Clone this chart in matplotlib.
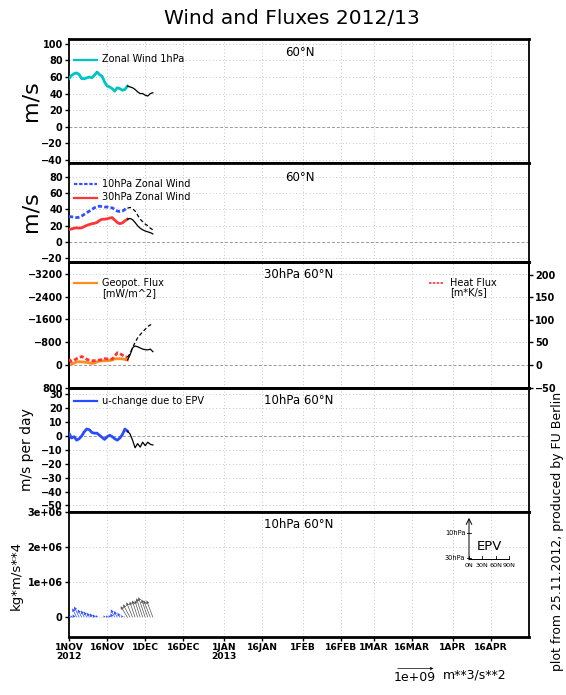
import numpy as np
import matplotlib
matplotlib.use('Agg')
import matplotlib.pyplot as plt
import matplotlib.dates as mdates
from matplotlib.lines import Line2D

W, H = 566, 695
def fx(x): return x / W
def fy(y): return 1 - y / H

# ---------------- data ----------------
start = np.datetime64('2012-11-01')
obs_days = np.arange(0, 24)      # analysis (coloured)
fc_days = np.arange(23, 34)      # forecast (black)

u1_obs = [58, 62, 64, 65, 63, 58, 58, 59, 60, 59, 62, 66, 63, 61, 54, 49, 48, 46, 43, 47, 46, 44, 45, 49]
u1_fc = [49, 48, 47, 45, 42, 40, 40, 38, 37, 40, 41]

u10_obs = [31, 31, 30.5, 30, 30.5, 32, 34, 36, 38, 40, 42, 43.5, 44, 43.5, 43, 43, 42, 42, 40, 38, 37.5, 38, 40, 41.5]
u10_fc = [41.5, 42.5, 41, 38, 33, 28, 25, 22, 20, 17, 15]
u30_obs = [15.5, 16, 17, 17.5, 17, 17.5, 19, 20.5, 21.5, 22.5, 23, 24, 26.5, 28, 28, 28.5, 29.5, 30, 27, 24, 22.5, 23.5, 26, 28]
u30_fc = [28, 29, 27.5, 24, 20, 17, 15, 13.5, 12.5, 11.5, 10]

geo_obs = [-80, -40, -60, -110, -115, -110, -100, -95, -70, -60, -65, -110, -140, -145, -150, -150, -160, -180, -215, -220, -220, -215, -195, -175]
geo_fc = [-175, -350, -600, -670, -640, -600, -560, -540, -530, -560, -470]
heat_obs = [12.5, 7.5, 10, 14, 17, 18.5, 16, 12.5, 10.5, 9.5, 9.5, 10, 11, 12, 14, 13.5, 12.5, 13, 19, 27, 25, 22, 18, 17]
heat_fc = [17, 25, 38, 50, 60, 67, 74, 79, 85, 89, 86]

du_obs = [2, -1.5, -0.5, -3, -2, 0, 3, 5, 4.5, 2.5, 2, 2, 0.5, -1, -2.5, -0.5, 0.5, -0.5, -2, -3, -1.5, 1, 5, 3.5]
du_fc = [3.5, 1.5, -3, -8.5, -5.5, -8, -4.5, -7, -4.5, -6, -6.5]

# EP flux vectors (units of 1e+09 m**3/s**2)
epy_obs = [-0.03, -0.03, -0.04, -0.12, -0.14, -0.11, -0.09, -0.08, -0.06, -0.05, -0.04, -0.03,
           0.0, -0.01, -0.03, -0.03, -0.03, -0.05, -0.11, -0.09, -0.06, -0.03, -0.015, -0.01]
epz_obs = [0.064, 0.056, 0.083, 0.25, 0.30, 0.22, 0.19, 0.16, 0.13, 0.11, 0.083, 0.064,
           0.01, 0.02, 0.056, 0.056, 0.064, 0.11, 0.22, 0.175, 0.13, 0.064, 0.03, 0.015]
epy_fc = [-0.19, -0.19, -0.17, -0.15, -0.15, -0.15, -0.175, -0.19, -0.175, -0.185, -0.175]
epz_fc = [0.31, 0.36, 0.42, 0.44, 0.47, 0.47, 0.53, 0.56, 0.50, 0.47, 0.47]

tick_dates = ['2012-11-01', '2012-11-16', '2012-12-01', '2012-12-16', '2013-01-01', '2013-01-16',
              '2013-02-01', '2013-02-16', '2013-03-01', '2013-03-16', '2013-04-01', '2013-04-16']
tick_labels = ['1NOV\n2012', '16NOV', '1DEC', '16DEC', '1JAN\n2013', '16JAN',
               '1FEB', '16FEB', '1MAR', '16MAR', '1APR', '16APR']

# ---------------- figure ----------------
plt.rcParams['font.family'] = ['DejaVu Sans']
fig = plt.figure(figsize=(W / 100, H / 100), dpi=100)

xo = mdates.date2num(start + obs_days)
xf = mdates.date2num(start + fc_days)
xt = mdates.date2num(np.array(tick_dates, dtype='datetime64[D]'))
xlim = (mdates.date2num(np.datetime64('2012-11-01')), mdates.date2num(np.datetime64('2013-05-01')))

panels_px = [(39, 163), (163, 262), (262, 388), (388, 512), (512, 637)]
axes = []
for (t, b) in panels_px:
    ax = fig.add_axes([fx(69), fy(b), fx(529) - fx(69), (b - t) / H])
    axes.append(ax)

grid_kw = dict(color='#b4b4b4', lw=0.6, ls=(0, (1, 3)))
zero_kw = dict(color='#999999', lw=0.7, ls=(0, (3, 2)), zorder=1)

for i, ax in enumerate(axes):
    ax.set_xlim(*xlim)
    ax.set_xticks(xt)
    for xv in xt[1:]:
        ax.axvline(xv, **grid_kw, zorder=0)
    for s in ax.spines.values():
        s.set_linewidth(1.3)
    ax.spines['top'].set_linewidth(2.0)
    ax.spines['bottom'].set_linewidth(2.0)
    ax.tick_params(axis='y', direction='out', length=3, width=1, pad=1.5, labelsize=7)
    if i < 4:
        ax.tick_params(axis='x', length=0, labelbottom=False)
    else:
        ax.set_xticklabels(tick_labels, fontsize=6.6, fontweight='bold', linespacing=0.95)
        ax.tick_params(axis='x', direction='out', length=3, width=1, pad=1.5)
    for lab in ax.get_yticklabels():
        lab.set_fontweight('bold')

def hgrid(ax, vals):
    for v in vals:
        if v == 0:
            ax.axhline(0, **zero_kw)
        else:
            ax.axhline(v, **grid_kw, zorder=0)

# Panel 1
ax = axes[0]
ax.set_ylim(-44, 106)
ax.set_yticks(np.arange(-40, 101, 20))
hgrid(ax, np.arange(-40, 101, 20))
ax.plot(xo, u1_obs, color='#00c4c4', lw=2.0, zorder=3)
ax.plot(xf, u1_fc, color='black', lw=0.9, zorder=3)

# Panel 2
ax = axes[1]
ax.set_ylim(-24.5, 97)
ax.set_yticks(np.arange(-20, 81, 20))
hgrid(ax, np.arange(-20, 81, 20))
ax.plot(xo, u10_obs, color='#3050ff', lw=2.0, ls=(0, (1.5, 0.8)), zorder=3)
ax.plot(xo, u30_obs, color='#ff3535', lw=2.0, zorder=3)
ax.plot(xf, u10_fc, color='black', lw=0.9, ls=(0, (3, 2)), zorder=3)
ax.plot(xf, u30_fc, color='black', lw=0.9, zorder=3)

# Panel 3
ax = axes[2]
ax.set_ylim(809, -3622)
ax.set_yticks([800, 0, -800, -1600, -2400, -3200])
for lab in ax.get_yticklabels():
    lab.set_fontweight('bold')
hgrid(ax, [0, -800, -1600, -2400, -3200])
ax.plot(xo, geo_obs, color='#ff8c1e', lw=2.0, zorder=3)
ax.plot(xf, geo_fc, color='black', lw=0.9, zorder=3)
ax3r = ax.twinx()
ax3r.set_position(ax.get_position())
ax3r.set_ylim(-51, 228)
ax3r.set_yticks([-50, 0, 50, 100, 150, 200])
ax3r.tick_params(axis='y', direction='out', length=3, width=1, pad=1.5, labelsize=7)
for lab in ax3r.get_yticklabels():
    lab.set_fontweight('bold')
for s in ax3r.spines.values():
    s.set_linewidth(1.3)
ax3r.spines['top'].set_linewidth(2.0)
ax3r.spines['bottom'].set_linewidth(2.0)
ax3r.plot(xo, heat_obs, color='#ff3535', lw=2.0, ls=(0, (1.5, 0.8)), zorder=3)
ax3r.plot(xf, heat_fc, color='black', lw=0.9, ls=(0, (3, 2)), zorder=3)

# Panel 4
ax = axes[3]
ax.set_ylim(-54.7, 34.5)
ax.set_yticks(np.arange(-50, 31, 10))
hgrid(ax, np.arange(-50, 31, 10))
ax.plot(xo, du_obs, color='#2a4cff', lw=2.0, zorder=3)
ax.plot(xf, du_fc, color='black', lw=0.9, zorder=3)

# Panel 5
ax = axes[4]
ax.set_ylim(-0.56e6, 3.0e6)
ax.set_yticks([0, 1e6, 2e6, 3e6])
ax.set_yticklabels(['0', '1e+06', '2e+06', '3e+06'])
for lab in ax.get_yticklabels():
    lab.set_fontweight('bold')
hgrid(ax, [1e6, 2e6])
qkw = dict(angles='uv', scale_units='inches', scale=1 / 0.36, units='dots', width=0.7,
           headwidth=5, headlength=5, headaxislength=4.5, pivot='tail', zorder=3)
Q = ax.quiver(xo, np.zeros(len(xo)), epy_obs, epz_obs, color='#3050ff', **qkw)
Qf = ax.quiver(xf, np.zeros(len(xf)), epy_fc, epz_fc, color='#555555', **qkw)
ax.quiverkey(Qf, X=fx(415), Y=fy(668), U=1.0, label='1e+09', labelpos='S', coordinates='figure',
             labelsep=0.03, color='black', fontproperties={'size': 9})
fig.text(fx(443), fy(675), 'm**3/s**2', fontsize=9, va='center', ha='left')

# EPV inset sketch
axi = fig.add_axes([fx(469), fy(559), 40 / W, 40 / H])
axi.set_xlim(0, 90)
axi.set_ylim(0, 1)
axi.axis('off')
axi.annotate('', xy=(0, 1.03), xytext=(0, -0.02), xycoords='data',
             arrowprops=dict(arrowstyle='->', lw=0.7, color='black', shrinkA=0, shrinkB=0),
             annotation_clip=False)
axi.plot([0, 90], [0, 0], color='black', lw=0.7, clip_on=False)
for xv, lab in zip([0, 30, 60, 90], ['0N', '30N', '60N', '90N']):
    axi.plot([xv, xv], [0, 0.08], color='black', lw=0.6, clip_on=False)
    axi.text(xv, -0.1, lab, fontsize=4.6, ha='center', va='top')
for yv, lab in [(0.65, '10hPa'), (0.03, '30hPa')]:
    axi.plot([-5, 5], [yv, yv], color='black', lw=0.6, clip_on=False)
    axi.text(-8, yv, lab, fontsize=4.8, ha='right', va='center')
axi.text(46, 0.32, 'EPV', fontsize=9.5, ha='center', va='center')

# ---------------- texts ----------------
fig.text(fx(292), fy(19), 'Wind and Fluxes 2012/13', fontsize=14.5, ha='center', va='center')

ptitle = dict(fontsize=8.5, ha='center', va='center', fontweight='medium')
fig.text(fx(300), fy(53), '60°N', **ptitle)
fig.text(fx(300), fy(178), '60°N', **ptitle)
fig.text(fx(299), fy(275), '30hPa 60°N', **ptitle)
fig.text(fx(299), fy(401), '10hPa 60°N', **ptitle)
fig.text(fx(299), fy(525), '10hPa 60°N', **ptitle)

legtxt = dict(fontsize=7, ha='left', va='center')
def legline(x0, x1, y, **kw):
    fig.add_artist(Line2D([fx(x0), fx(x1)], [fy(y), fy(y)], transform=fig.transFigure, **kw))

legline(74, 97, 59.5, color='#00c4c4', lw=1.6)
fig.text(fx(102), fy(59.5), 'Zonal Wind 1hPa', **legtxt)
legline(74, 97, 184, color='#3050ff', lw=1.6, ls=(0, (1.5, 0.8)))
fig.text(fx(102), fy(184), '10hPa Zonal Wind', **legtxt)
legline(74, 97, 197.5, color='#ff3535', lw=1.6)
fig.text(fx(102), fy(197.5), '30hPa Zonal Wind', **legtxt)
legline(74, 97, 283, color='#ff8c1e', lw=1.6)
fig.text(fx(102), fy(283), 'Geopot. Flux', **legtxt)
fig.text(fx(102), fy(293), '[mW/m^2]', **legtxt)
legline(429, 443, 283, color='#ff3535', lw=1.2, ls=(0, (1.5, 0.8)))
fig.text(fx(450), fy(283), 'Heat Flux', **legtxt)
fig.text(fx(450), fy(292), '[m*K/s]', **legtxt)
legline(74, 97, 401, color='#2a4cff', lw=1.6)
fig.text(fx(102), fy(401), 'u-change due to EPV', **legtxt)

fig.text(fx(30), fy(101), 'm/s', fontsize=16, rotation=90, ha='center', va='center')
fig.text(fx(30), fy(212), 'm/s', fontsize=16, rotation=90, ha='center', va='center')
fig.text(fx(27), fy(450), 'm/s per day', fontsize=10, rotation=90, ha='center', va='center')
fig.text(fx(16), fy(575), 'kg*m/s**4', fontsize=9.5, rotation=90, ha='center', va='center')

fig.text(fx(557), fy(531), 'plot from 25.11.2012, produced by FU Berlin', fontsize=9,
         rotation=90, ha='center', va='center')

fig.savefig('out.png', dpi=100)
